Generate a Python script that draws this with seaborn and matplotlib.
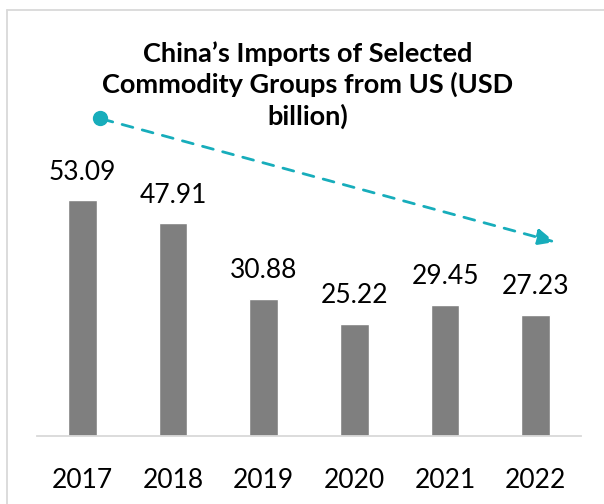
import matplotlib
matplotlib.use('Agg')
import pandas as pd
import seaborn as sns
from matplotlib import pyplot as plt

# chart data
years = ['2017', '2018', '2019', '2020', '2021', '2022']
imports = [53.09, 47.91, 30.88, 25.22, 29.45, 27.23]
title = 'China\u2019s Imports of Selected\nCommodity Groups from US (USD\nbillion)'

BAR_COLOR = '#7f7f7f'
ARROW_COLOR = '#17adbb'
W, H = 604, 504


def fig_xy(px, py):
    """pixel position (top-left origin) -> figure fraction"""
    return px / W, 1 - py / H


sns.set_style('white')
plt.rcParams['font.family'] = ['Lato', 'DejaVu Sans']

df = pd.DataFrame({'year': years, 'value': imports})

fig = plt.figure(figsize=(6.04, 5.04), dpi=100)
ax = fig.add_axes([0.0613, 0.1355, 0.9007, 0.5286])

sns.barplot(data=df, x='year', y='value', color=BAR_COLOR, width=0.314,
            saturation=1, ax=ax)

ax.set_ylim(0, 60)
ax.set_xlim(-0.5, 5.5)
ax.set_xlabel('')
ax.set_ylabel('')
ax.set_yticks([])
for s in ['top', 'right', 'left']:
    ax.spines[s].set_visible(False)
ax.spines['bottom'].set_color('#d9d9d9')
ax.spines['bottom'].set_linewidth(1.3)
ax.tick_params(axis='x', length=0, pad=23, labelsize=19, colors='#000000')

# value labels above bars
for i, v in enumerate(imports):
    ax.text(i, v + 6.3, f'{v:.2f}', ha='center', va='center', fontsize=19,
            color='#000000')

# title
tx, ty = fig_xy(308, 85)
fig.text(tx, ty, title, ha='center', va='center', fontsize=19.5,
         fontweight='bold', linespacing=1.3, color='#000000')

# trend arrow
ax.annotate('', xy=fig_xy(555, 242), xytext=fig_xy(102, 119),
            xycoords='figure fraction', textcoords='figure fraction',
            arrowprops=dict(arrowstyle='-|>,head_length=1.1,head_width=0.5',
                            color=ARROW_COLOR, lw=2, linestyle=(0, (4, 3.5)),
                            shrinkA=0, shrinkB=0))
dx, dy = fig_xy(100, 118)
fig.add_artist(plt.Line2D([dx], [dy], marker='o', markersize=10,
                          color=ARROW_COLOR, transform=fig.transFigure))

# light frame
fx, fy = fig_xy(7, 10)
fig.add_artist(plt.Line2D([fx, fx], [0, fy], color='#d9d9d9', lw=1.3,
                          transform=fig.transFigure))
fig.add_artist(plt.Line2D([fx, 1], [fy, fy], color='#d9d9d9', lw=1.3,
                          transform=fig.transFigure))

fig.savefig('out.png', dpi=100)
